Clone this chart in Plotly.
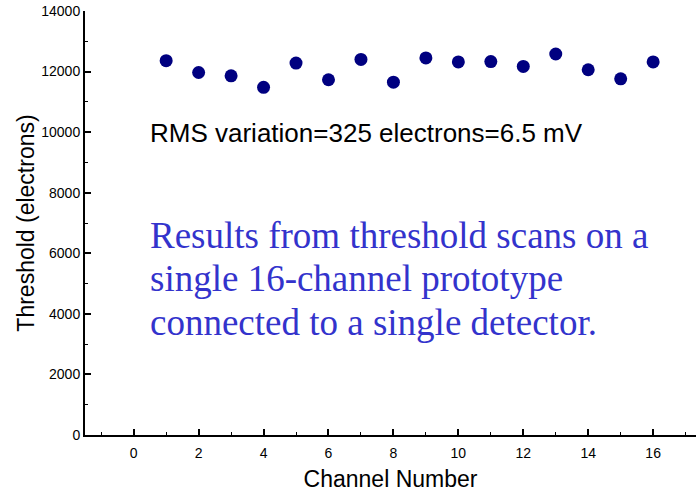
import plotly.graph_objects as go

# Threshold per channel for a single 16-channel prototype
channels = list(range(1, 17))
thresholds = [12360, 11970, 11860, 11480, 12280, 11730, 12400, 11650,
              12450, 12320, 12330, 12170, 12580, 12060, 11760, 12320]

x_ticks = [0, 2, 4, 6, 8, 10, 12, 14, 16]
y_ticks = [0, 2000, 4000, 6000, 8000, 10000, 12000, 14000]
y_tick_text = [str(v) for v in y_ticks]

rms_note = "RMS variation=325 electrons=6.5 mV"
summary_lines = [
    "Results from threshold scans on a",
    "single 16-channel prototype",
    "connected to a single detector.",
]
# vertical placement of each summary line, in threshold units
summary_y = [6580, 5180, 3730]

SANS = "Liberation Sans, Arial, sans-serif"
SERIF = "Liberation Serif, Times New Roman, serif"

fig = go.Figure()
fig.add_trace(go.Scatter(
    x=channels, y=thresholds, mode="markers",
    marker=dict(color="#000080", size=13, line=dict(width=0)),
    showlegend=False,
))

axis_common = dict(
    showline=True, linecolor="black", linewidth=2,
    ticks="inside", tickcolor="black", tickwidth=1.5, ticklen=6,
    showgrid=False, zeroline=False,
    tickfont=dict(family=SANS, size=14, color="black"),
)

fig.update_xaxes(
    range=[-1.5, 17.32], tickvals=x_ticks,
    minor=dict(dtick=1, ticks="inside", ticklen=3, tickcolor="black", tickwidth=1),
    title=dict(text="Channel Number", font=dict(family=SANS, size=23, color="black"), standoff=12),
    ticklabelstandoff=4,
    **axis_common,
)
fig.update_yaxes(
    range=[0, 14000], tickvals=y_ticks, ticktext=y_tick_text,
    minor=dict(dtick=1000, ticks="inside", ticklen=3, tickcolor="black", tickwidth=1),
    title=dict(text="Threshold (electrons)", font=dict(family=SANS, size=23, color="black"), standoff=0),
    **axis_common,
)

fig.add_annotation(
    x=0.45, y=9980, xref="x", yref="y", text=rms_note, showarrow=False,
    xanchor="left", yanchor="middle",
    font=dict(family=SANS, size=26, color="black"),
)
for line, ypos in zip(summary_lines, summary_y):
    fig.add_annotation(
        x=0.45, y=ypos, xref="x", yref="y", text=line,
        showarrow=False, xanchor="left", yanchor="middle", align="left",
        font=dict(family=SERIF, size=37, color="#3333CC"),
    )

fig.update_layout(
    width=696, height=492,
    margin=dict(l=85, r=0, t=11, b=57),
    paper_bgcolor="white", plot_bgcolor="white",
)

fig.write_html("out.html")
